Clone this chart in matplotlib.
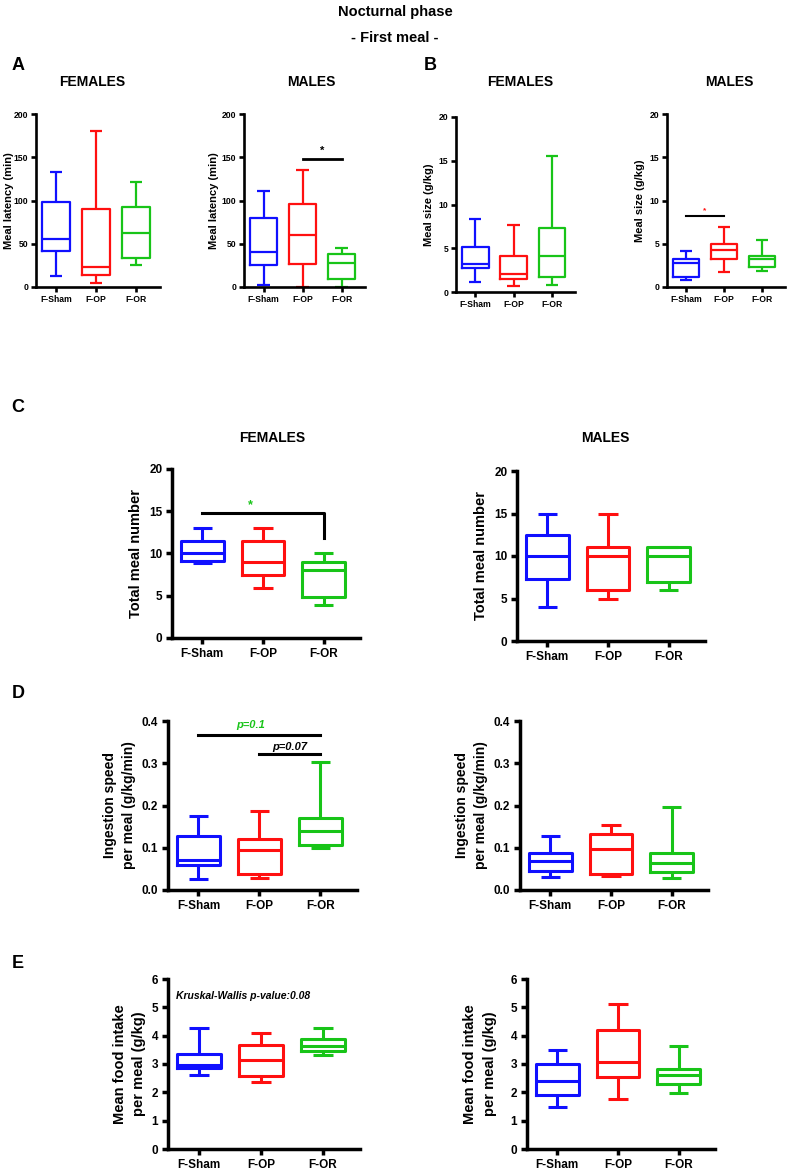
import numpy as np
import matplotlib.pyplot as plt

plt.rcParams['font.family'] = ['Liberation Sans', 'DejaVu Sans']
plt.rcParams['font.weight'] = 'bold'

W, H = 790, 1170

groups = ['F-Sham', 'F-OP', 'F-OR']
colors = ['#1010ff', '#ff1010', '#18c418']

# box summaries per group: [whisker low, Q1, median, Q3, whisker high]
latency_f = [[13, 42, 56, 98, 133], [5, 14, 23, 90, 180], [25, 33, 63, 92, 121]]
latency_m = [[2, 26, 41, 80, 111], [0, 27, 60, 96, 135], [0, 9, 28, 38, 45]]
size_f = [[1.1, 2.7, 3.2, 5.2, 8.4], [0.65, 1.5, 2.1, 4.1, 7.7], [0.8, 1.7, 4.1, 7.3, 15.5]]
size_m = [[0.8, 1.1, 2.8, 3.25, 4.2], [1.7, 3.25, 4.3, 5.0, 6.9], [1.8, 2.3, 3.2, 3.6, 5.4]]
number_f = [[8.9, 9.1, 10, 11.5, 13], [5.9, 7.4, 9.0, 11.5, 13], [3.9, 4.9, 8.0, 9.0, 10]]
number_m = [[4, 7.3, 10, 12.5, 14.9], [4.9, 6, 10, 11.1, 14.9], [6, 6.9, 10, 11.1, 11.1]]
speed_f = [[0.025, 0.058, 0.07, 0.128, 0.174], [0.028, 0.039, 0.094, 0.12, 0.186],
           [0.1, 0.106, 0.14, 0.17, 0.304]]
speed_m = [[0.031, 0.046, 0.068, 0.087, 0.128], [0.034, 0.039, 0.098, 0.132, 0.153],
           [0.028, 0.042, 0.065, 0.087, 0.196]]
intake_f = [[2.61, 2.87, 2.97, 3.34, 4.27], [2.36, 2.59, 3.13, 3.68, 4.09], [3.32, 3.45, 3.62, 3.89, 4.27]]
intake_m = [[1.5, 1.9, 2.39, 2.99, 3.5], [1.78, 2.55, 3.07, 4.19, 5.12], [1.99, 2.31, 2.6, 2.84, 3.65]]

latency_ticks = [0, 50, 100, 150, 200]
size_ticks = [0, 5, 10, 15, 20]
number_ticks = [0, 5, 10, 15, 20]
speed_ticks = [0.0, 0.1, 0.2, 0.3, 0.4]
intake_ticks = [0, 1, 2, 3, 4, 5, 6]


def rect(l, t, r, b):
    return [l / W, 1 - b / H, (r - l) / W, (b - t) / H]


def boxpanel(pix, stats, ticks, ylabel, lw, fs, lfs, fmt='{:g}', lpad=4, tpad=3, tlen=4):
    ax = fig.add_axes(rect(*pix))
    for i, (s, c) in enumerate(zip(stats, colors)):
        d = dict(whislo=s[0], q1=s[1], med=s[2], q3=s[3], whishi=s[4], fliers=[])
        props = dict(color=c, lw=lw, solid_capstyle='butt')
        ax.bxp([d], positions=[i], widths=0.7, capwidths=0.32, showfliers=False,
               manage_ticks=False, boxprops=dict(color=c, lw=lw),
               medianprops=props, whiskerprops=props, capprops=props)
    for a in ax.get_children():
        if hasattr(a, 'set_clip_on'):
            a.set_clip_on(False)
    ax.set_xlim(-0.5, 2.6)
    ax.set_ylim(ticks[0], ticks[-1])
    ax.set_yticks(ticks)
    ax.set_yticklabels([fmt.format(t) for t in ticks], fontsize=fs, fontweight='bold')
    ax.set_xticks(range(3))
    ax.set_xticklabels(groups, fontsize=fs, fontweight='bold')
    for sp in ['top', 'right']:
        ax.spines[sp].set_visible(False)
    for sp in ['left', 'bottom']:
        ax.spines[sp].set_linewidth(lw + 0.3)
    ax.tick_params(width=lw + 0.3, length=tlen, pad=tpad)
    ax.set_ylabel(ylabel, fontsize=lfs, fontweight='bold', linespacing=1.5, labelpad=lpad)
    return ax


fig = plt.figure(figsize=(W / 100, H / 100), dpi=100)

fig.text(395 / W, 1 - 12 / H, 'Nocturnal phase', ha='center', va='center', fontsize=10.5)
fig.text(395 / W, 1 - 38 / H, '- First meal -', ha='center', va='center', fontsize=10.5)

for lab, x, y in [('A', 18, 65), ('B', 430, 65), ('C', 18, 408), ('D', 18, 693), ('E', 18, 963)]:
    fig.text(x / W, 1 - y / H, lab, ha='center', va='center', fontsize=13, fontweight='bold')

for txt, x, y in [('FEMALES', 92, 82), ('MALES', 311, 82), ('FEMALES', 520, 82), ('MALES', 729, 82),
                  ('FEMALES', 272, 438), ('MALES', 605, 438)]:
    fig.text(x / W, 1 - y / H, txt, ha='center', va='center', fontsize=10, fontweight='bold')

# A
ax = boxpanel((36, 114, 160, 287), latency_f, latency_ticks, 'Meal latency (min)', 1.6, 6.2, 8,
              tpad=2, tlen=3.5)
ax.yaxis.set_label_coords(-0.177, 0.5)
ax = boxpanel((244, 114, 365, 287), latency_m, latency_ticks, 'Meal latency (min)', 1.6, 6.2, 8,
              lpad=2, tpad=2, tlen=3.5)
ax.plot([1, 2], [148, 148], color='k', lw=2)
ax.text(1.5, 152, '*', ha='center', va='bottom', fontsize=8)

# B
ax = boxpanel((456, 117, 575, 292), size_f, size_ticks, 'Meal size (g/kg)', 1.6, 6.2, 8,
              lpad=3, tpad=2, tlen=3.5)
ax = boxpanel((667, 114, 785, 287), size_m, size_ticks, 'Meal size (g/kg)', 1.6, 6.2, 8,
              lpad=3, tpad=2, tlen=3.5)
ax.plot([0, 1], [8.2, 8.2], color='k', lw=1.5)
ax.text(0.5, 8.4, '*', ha='center', va='bottom', fontsize=6, color=colors[1])

# C
ax = boxpanel((172, 469, 360, 638), number_f, number_ticks, 'Total meal number', 2.2, 8.5, 10.5)
ax.plot([0, 2, 2], [14.85, 14.85, 11.8], color='k', lw=2.2)
ax.text(0.8, 15.0, '*', ha='center', va='bottom', fontsize=9, color=colors[2])
ax = boxpanel((517, 471, 705, 641), number_m, number_ticks, 'Total meal number', 2.2, 8.5, 10.5)

# D
ax = boxpanel((168, 721, 357, 890), speed_f, speed_ticks, 'Ingestion speed\nper meal (g/kg/min)',
              2.2, 8.5, 10, fmt='{:.1f}')
ax.plot([0, 2], [0.368, 0.368], color='k', lw=2.2)
ax.text(0.85, 0.378, 'p=0.1', ha='center', va='bottom', fontsize=8, style='italic', color=colors[2])
ax.plot([1, 2], [0.321, 0.321], color='k', lw=2.2)
ax.text(1.5, 0.327, 'p=0.07', ha='center', va='bottom', fontsize=8, style='italic')
ax = boxpanel((520, 721, 708, 890), speed_m, speed_ticks, 'Ingestion speed\nper meal (g/kg/min)',
              2.2, 8.5, 10, fmt='{:.1f}')

# E
ax = boxpanel((168, 979, 360, 1149), intake_f, intake_ticks, 'Mean food intake\nper meal (g/kg)',
              2.2, 8.5, 10.5)
ax.text(-0.37, 5.4, 'Kruskal-Wallis p-value:0.08', ha='left', va='center', fontsize=7.5, style='italic')
ax = boxpanel((527, 979, 715, 1149), intake_m, intake_ticks, 'Mean food intake\nper meal (g/kg)',
              2.2, 8.5, 10.5, lpad=10)

fig.savefig('out.png', dpi=100)
